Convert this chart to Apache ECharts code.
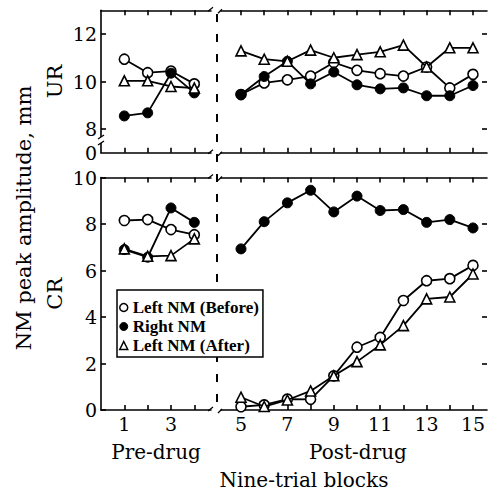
<!DOCTYPE html>
<html><head><meta charset="utf-8">
<script src="https://cdn.jsdelivr.net/npm/echarts@6/dist/echarts.min.js"></script>
<style>html,body{margin:0;padding:0;background:#fff}#c{width:490px;height:491px}</style>
</head><body><div id="c"></div>
<script>
// ---- data ----
const preBlocks  = [1, 2, 3, 4];
const postBlocks = [5, 6, 7, 8, 9, 10, 11, 12, 13, 14, 15];

// UR panel
const urBeforePre  = [10.94, 10.37, 10.44, 9.90];
const urRightPre   = [8.55, 8.68, 10.35, 9.52];
const urAfterPre   = [10.03, 10.03, 9.79, 9.72];
const urBeforePost = [9.45, 9.94, 10.07, 10.23, 10.80, 10.47, 10.33, 10.23, 10.61, 9.73, 10.30];
const urRightPost  = [9.45, 10.21, 10.85, 9.90, 10.40, 9.86, 9.69, 9.73, 9.40, 9.40, 9.83];
const urAfterPost  = [11.29, 10.94, 10.85, 11.32, 11.00, 11.13, 11.25, 11.53, 10.61, 11.42, 11.42];

// CR panel
const crBeforePre  = [8.15, 8.19, 7.76, 7.54];
const crRightPre   = [6.90, 6.57, 8.69, 8.07];
const crAfterPre   = [6.93, 6.61, 6.64, 7.36];
const crBeforePost = [0.14, 0.22, 0.47, 0.46, 1.47, 2.70, 3.12, 4.71, 5.56, 5.65, 6.22];
const crRightPost  = [6.93, 8.10, 8.91, 9.45, 8.52, 9.20, 8.58, 8.62, 8.07, 8.19, 7.83];
const crAfterPost  = [0.55, 0.15, 0.43, 0.82, 1.47, 2.08, 2.80, 3.63, 4.78, 4.86, 5.85];

// ticks / labels
const preTicks   = [1, 2, 3, 4];
const preLabels  = [1, 3];
const postTicks  = [5, 6, 7, 8, 9, 10, 11, 12, 13, 14, 15];
const postLabels = [5, 7, 9, 11, 13, 15];
const urTicks    = [8, 10, 12];
const urLabelVals = [7, 8, 10, 12];      // 7 = bottom of broken axis
const urLabelText = ['0', '8', '10', '12'];
const crTicks    = [0, 2, 4, 6, 8, 10];
const crRightTicks = [2, 4, 6, 8];

const seriesNames = ['Left NM (Before)', 'Right NM', 'Left NM (After)'];
const xTitle = 'Nine-trial blocks';
const yTitle = 'NM peak amplitude, mm';
const groupNames = ['Pre-drug', 'Post-drug'];
const panelNames = ['UR', 'CR'];

// ---- layout ----
const SERIF = 'DejaVu Serif';
const grids = [
  {left: 101, top: 10.25, width: 110, height: 142.5},
  {left: 221, top: 10.25, width: 266, height: 142.5},
  {left: 101, top: 177.5, width: 110, height: 232.5},
  {left: 221, top: 177.5, width: 266, height: 232.5}
].map(g => Object.assign({outerBoundsMode: 'none', containLabel: false}, g));

const preRange  = [0, 110 / 23.33];
const postRange = [5 - 20 / 23.2, 5 - 20 / 23.2 + 266 / 23.2];
const LW = 1.6;
const lineS = {lineStyle: {color: '#000', width: LW}, onZero: false};

function xAxes(gi, isPre, isBottomPanel) {
  const r = isPre ? preRange : postRange;
  const ticks = isPre ? preTicks : postTicks;
  const labels = isPre ? preLabels : postLabels;
  const base = {
    type: 'value', gridIndex: gi, min: r[0], max: r[1],
    splitLine: {show: false}, axisLine: lineS,
    axisTick: {show: true, inside: true, length: 5, customValues: ticks, lineStyle: {color: '#000', width: LW}}
  };
  return [
    Object.assign({}, base, {
      position: 'bottom',
      axisLabel: {show: isBottomPanel, customValues: labels, color: '#000', fontFamily: SERIF, fontSize: 19, margin: 4},
      name: isBottomPanel ? (isPre ? groupNames[0] : groupNames[1]) : '',
      nameLocation: 'middle', nameGap: 32,
      nameTextStyle: {color: '#000', fontFamily: SERIF, fontSize: 20, padding: isPre ? [0, 0, 0, 0] : [0, 0, 0, 8]}
    }),
    Object.assign({}, base, {position: 'top', axisLabel: {show: false}})
  ];
}

function yAxis(gi, isUR, isLeft) {
  const range = isUR ? [7, 13] : [0, 10];
  const ax = {type: 'value', gridIndex: gi, min: range[0], max: range[1], splitLine: {show: false}};
  if (isLeft) {
    Object.assign(ax, {
      position: 'left', axisLine: lineS,
      axisTick: {show: true, inside: true, length: 5, customValues: isUR ? urTicks : crTicks, lineStyle: {color: '#000', width: LW}},
      axisLabel: {
        show: true, color: '#000', fontFamily: SERIF, fontSize: 19, margin: 4,
        customValues: isUR ? urLabelVals : crTicks,
        formatter: v => isUR ? urLabelText[urLabelVals.indexOf(v)] : String(v)
      },
      name: isUR ? panelNames[0] : panelNames[1], nameLocation: 'middle', nameGap: 36, nameRotate: 90,
      nameTextStyle: {color: '#000', fontFamily: SERIF, fontSize: 21}
    });
  } else {
    Object.assign(ax, {
      position: 'right', axisLine: {show: false, onZero: false},
      axisTick: {show: true, inside: true, length: 5, customValues: isUR ? urTicks : crRightTicks, lineStyle: {color: '#000', width: LW}},
      axisLabel: {show: false}
    });
  }
  return ax;
}

const xAxisList = [].concat(xAxes(0, true, false), xAxes(1, false, false), xAxes(2, true, true), xAxes(3, false, true));
const yAxisList = [yAxis(0, true, true), yAxis(1, true, false), yAxis(2, false, true), yAxis(3, false, false)];

const styles = [
  {symbol: 'circle', symbolSize: 10, itemStyle: {color: '#fff', borderColor: '#000', borderWidth: 1.6}},
  {symbol: 'circle', symbolSize: 10, itemStyle: {color: '#000', borderColor: '#000', borderWidth: 1}},
  {symbol: 'triangle', symbolSize: 10, itemStyle: {color: '#fff', borderColor: '#000', borderWidth: 1.6}}
];
const zip = (xs, ys) => xs.map((x, i) => [x, ys[i]]);
const panels = [
  {gi: 0, xs: preBlocks,  sets: [urBeforePre, urRightPre, urAfterPre]},
  {gi: 1, xs: postBlocks, sets: [urBeforePost, urRightPost, urAfterPost]},
  {gi: 2, xs: preBlocks,  sets: [crBeforePre, crRightPre, crAfterPre]},
  {gi: 3, xs: postBlocks, sets: [crBeforePost, crRightPost, crAfterPost]}
];
const drawOrder = [0, 2, 1];
const series = [];
panels.forEach(p => {
  drawOrder.forEach(k => {
    series.push(Object.assign({
      type: 'line', name: seriesNames[k],
      xAxisIndex: p.gi * 2, yAxisIndex: p.gi,
      data: zip(p.xs, p.sets[k]),
      lineStyle: {color: '#000', width: 1.8},
      emphasis: {disabled: true}, silent: true, z: 2 + k
    }, styles[k]));
  });
});

// decorative axis-break marks
const brk = [];
[10.25, 152.75, 177.5, 410].forEach(y => {
  brk.push({type: 'line', shape: {x1: 208, y1: y + 1, x2: 213, y2: y - 3}, style: {stroke: '#000', lineWidth: 1.3}});
  brk.push({type: 'line', shape: {x1: 218, y1: y + 3, x2: 222, y2: y - 1}, style: {stroke: '#000', lineWidth: 1.3}});
});
brk.push({type: 'rect', shape: {x: 97, y: 137, width: 8, height: 6}, style: {fill: '#fff'}, z: 50});
brk.push({type: 'line', shape: {x1: 98, y1: 139, x2: 104, y2: 135}, style: {stroke: '#000', lineWidth: 1.3}, z: 51});
brk.push({type: 'line', shape: {x1: 98, y1: 145, x2: 104, y2: 141}, style: {stroke: '#000', lineWidth: 1.3}, z: 51});

const chart = echarts.init(document.getElementById('c'), null, {renderer: 'svg'});
chart.setOption({
  backgroundColor: '#fff',
  animation: false,
  grid: grids,
  xAxis: xAxisList,
  yAxis: yAxisList,
  series: series,
  legend: {
    data: [
      {name: seriesNames[0], icon: 'circle', itemStyle: {color: '#fff', borderColor: '#000', borderWidth: 1.5}},
      {name: seriesNames[1], icon: 'circle', itemStyle: {color: '#000', borderColor: '#000', borderWidth: 1}},
      {name: seriesNames[2], icon: 'triangle', itemStyle: {color: '#fff', borderColor: '#000', borderWidth: 1.5}}
    ],
    orient: 'vertical', left: 117, top: 290,
    itemWidth: 8, itemHeight: 8, itemGap: 2, itemTextGap: 3,
    padding: [9, 4, 3, 2],
    borderColor: '#000', borderWidth: 1.5, backgroundColor: '#fff',
    selectedMode: false, z: 20,
    textStyle: {color: '#000', fontFamily: 'Liberation Serif', fontWeight: 'bold', fontSize: 17, lineHeight: 17}
  },
  graphic: [
    {type: 'line', shape: {x1: 217, y1: 14, x2: 217, y2: 410}, style: {stroke: '#000', lineWidth: 2, lineDash: [8, 12]}, z: 1},
    {type: 'text', x: 24, y: 218, rotation: Math.PI / 2,
     style: {text: yTitle, fontFamily: SERIF, fontSize: 21, fill: '#000', align: 'center', verticalAlign: 'middle'}},
    {type: 'text', x: 304, y: 480,
     style: {text: xTitle, fontFamily: SERIF, fontSize: 20, fill: '#000', align: 'center', verticalAlign: 'middle'}}
  ].concat(brk)
});
</script>
</body></html>
